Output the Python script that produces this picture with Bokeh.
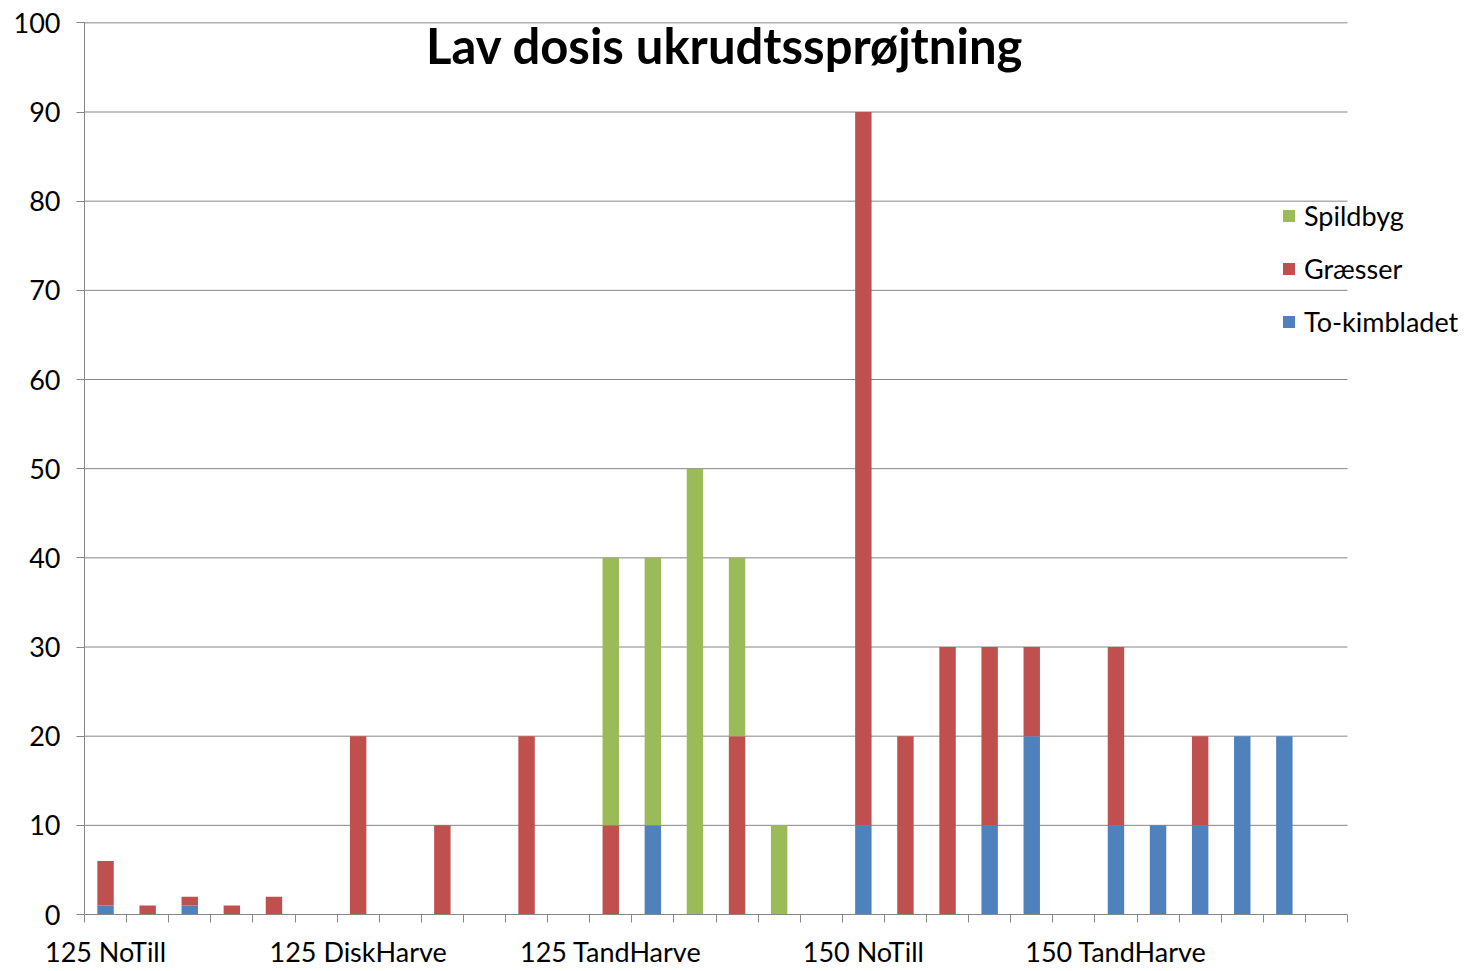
from bokeh.plotting import figure
from bokeh.models import FixedTicker, Range1d, Legend, LegendItem, Label, ColumnDataSource
from bokeh.embed import file_html
from bokeh.resources import INLINE

title_text = "Lav dosis ukrudtssprøjtning"
group_labels = ["125 NoTill", "125 DiskHarve", "125 TandHarve", "150 NoTill", "150 TandHarve"]
group_first_index = [0, 6, 12, 18, 24]
n_bars = 30
series_names = ["To-kimbladet", "Græsser", "Spildbyg"]
series_colors = ["#4F81BD", "#C0504D", "#9BBB59"]
to_kimbladet = [1, 0, 1, 0, 0, 0, 0, 0, 0, 0, 0, 0, 0, 10, 0,
                0, 0, 0, 10, 0, 0, 10, 20, 0, 10, 10, 10, 20, 20, 0]
graesser = [5, 1, 1, 1, 2, 0, 20, 0, 10, 0, 20, 0, 10, 0, 0,
            20, 0, 0, 80, 20, 30, 20, 10, 0, 20, 0, 10, 0, 0, 0]
spildbyg = [0, 0, 0, 0, 0, 0, 0, 0, 0, 0, 0, 0, 30, 30, 50,
            20, 10, 0, 0, 0, 0, 0, 0, 0, 0, 0, 0, 0, 0, 0]
y_ticks = list(range(0, 101, 10))

FONT = "Lato"
GRAY = "#868686"

W, H = 1471, 970
LEFT, RIGHT, TOP, BOTTOM = 84, 3, 21, 56
frame_w = W - LEFT - RIGHT
px_per_cat = 1263 / n_bars
x_end = -0.5 + frame_w / px_per_cat

source = ColumnDataSource(dict(
    x=list(range(n_bars)),
    tk=to_kimbladet,
    gr=graesser,
    sb=spildbyg,
))

p = figure(width=W, height=H, output_backend="svg", toolbar_location=None,
           x_range=Range1d(-0.5, x_end), y_range=Range1d(0, 100.15),
           min_border_left=LEFT, min_border_right=RIGHT,
           min_border_top=TOP, min_border_bottom=BOTTOM)
p.outline_line_color = None
p.background_fill_color = "white"
p.xgrid.visible = False
p.ygrid.visible = False

# horizontal gridlines limited to the category area
grid_y = y_ticks[1:]
p.segment(x0=[-0.5] * len(grid_y), x1=[n_bars - 0.5] * len(grid_y),
          y0=grid_y, y1=grid_y, line_color=GRAY, line_width=1)

rs = p.vbar_stack(["tk", "gr", "sb"], x="x", width=0.39, color=series_colors,
                  line_color=None, source=source)

# y axis
p.yaxis.ticker = FixedTicker(ticks=y_ticks, minor_ticks=[])
p.yaxis.bounds = (0, 100)
p.yaxis.axis_line_color = GRAY
p.yaxis.major_tick_line_color = GRAY
p.yaxis.major_tick_out = 8
p.yaxis.major_tick_in = 0
p.yaxis.minor_tick_line_color = None
p.yaxis.major_label_text_font = FONT
p.yaxis.major_label_text_font_size = "27px"
p.yaxis.major_label_text_color = "#000000"
p.yaxis.major_label_standoff = 16

# x axis
p.xaxis.ticker = FixedTicker(ticks=group_first_index,
                             minor_ticks=[i - 0.5 for i in range(n_bars + 1)])
p.xaxis.bounds = (-0.5, n_bars - 0.5)
p.xaxis.major_label_overrides = {g: lab for g, lab in zip(group_first_index, group_labels)}
p.xaxis.axis_line_color = GRAY
p.xaxis.major_tick_line_color = None
p.xaxis.major_tick_out = 0
p.xaxis.major_tick_in = 0
p.xaxis.minor_tick_line_color = GRAY
p.xaxis.minor_tick_out = 8
p.xaxis.minor_tick_in = 0
p.xaxis.major_label_text_font = FONT
p.xaxis.major_label_text_font_size = "27px"
p.xaxis.major_label_text_color = "#000000"
p.xaxis.major_label_standoff = 12

title = Label(x=14.71, y=97.5, text=title_text, text_align="center",
              text_baseline="alphabetic", text_font=FONT, text_font_style="bold",
              text_font_size="49px", text_color="#000000")
p.add_layout(title)

items = [LegendItem(label=series_names[i], renderers=[rs[i]]) for i in [2, 1, 0]]
legend = Legend(items=items, location=(1197, 576), orientation="vertical",
                label_text_font=FONT, label_text_font_size="27px", label_text_color="#000000",
                glyph_width=15, glyph_height=15, label_height=31, spacing=20,
                label_standoff=8, padding=0, margin=0,
                border_line_color=None, background_fill_alpha=0)
p.add_layout(legend, "center")

open("out.html", "w").write(file_html(p, INLINE))
